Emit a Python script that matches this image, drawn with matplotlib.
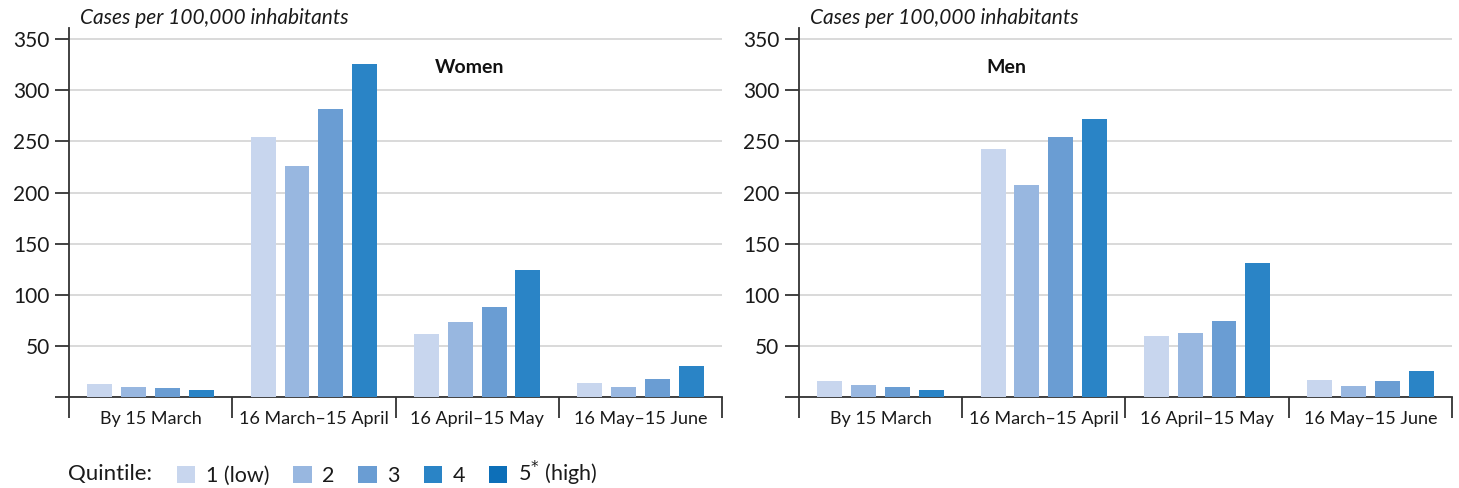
import numpy as np
import matplotlib.pyplot as plt
from matplotlib.patches import Patch

plt.rcParams['font.family'] = ['Lato', 'DejaVu Sans']

periods = ['By 15 March', '16 March\u201315 April', '16 April\u201315 May', '16 May\u201315 June']
quintiles = ['1 (low)', '2', '3', '4', '5$^{*}$ (high)']
colors = ['#c8d6ee', '#98b7e0', '#6a9dd3', '#2a84c6', '#0d6fb8']

# values per quintile (rows) and period (columns); quintile 5 not shown in the bars
women = [[13, 254, 62, 14],
         [10, 226, 73, 10],
         [9, 282, 88, 18],
         [7, 326, 124, 30]]
men = [[16, 243, 60, 17],
       [12, 207, 63, 11],
       [10, 254, 74, 16],
       [7, 272, 131, 25]]

fig = plt.figure(figsize=(14.59, 4.88), dpi=100)
ax1 = fig.add_axes([0.0473, 0.1865, 0.4476, 0.7561])
ax2 = fig.add_axes([0.5476, 0.1865, 0.4476, 0.7561])

x = np.arange(len(periods))
step = 0.207
width = 0.153

for ax, data, title, tx in [(ax1, women, 'Women', 0.614), (ax2, men, 'Men', 0.318)]:
    for i, vals in enumerate(data):
        ax.bar(x + (i - 1.5) * step, vals, width=width, color=colors[i], zorder=3)
    ax.set_xlim(-0.5, 3.5)
    ax.set_ylim(0, 361)
    ax.set_yticks(np.arange(0, 351, 50))
    ax.set_yticklabels([''] + [str(v) for v in range(50, 351, 50)])
    ax.yaxis.grid(True, color='#d9d9d9', linewidth=1.4, zorder=0)
    ax.set_xticks(x)
    ax.set_xticklabels(periods)
    ax.set_xticks(np.arange(-0.5, 3.6, 1), minor=True)
    ax.tick_params(axis='x', which='major', length=0, pad=10, labelsize=13, colors='#1a1a1a')
    ax.tick_params(axis='x', which='minor', length=15, width=1.3, color='#333333')
    ax.tick_params(axis='y', length=10, width=1.3, color='#333333', labelsize=15, pad=4, labelcolor='#1a1a1a')
    for s in ['top', 'right']:
        ax.spines[s].set_visible(False)
    ax.spines['left'].set_color('#333333')
    ax.spines['bottom'].set_color('#333333')
    ax.spines['left'].set_linewidth(1.3)
    ax.spines['bottom'].set_linewidth(1.3)
    ax.text(tx, 0.894, title, transform=ax.transAxes, ha='center', va='center',
            fontsize=14, fontweight='bold', color='#111111')

fig.text(0.055, 0.963, 'Cases per 100,000 inhabitants', style='italic', fontsize=15,
         ha='left', va='center', color='#1a1a1a')
fig.text(0.555, 0.963, 'Cases per 100,000 inhabitants', style='italic', fontsize=15,
         ha='left', va='center', color='#1a1a1a')

fig.text(68 / 1459, 0.028, 'Quintile:', fontsize=16, ha='left', va='center', color='#1a1a1a')
handles = [Patch(facecolor=c, edgecolor='none') for c in colors]
fig.legend(handles, quintiles, loc='center left', bbox_to_anchor=(177 / 1459, 0.029),
           ncol=5, frameon=False, fontsize=15.5, handlelength=0.85, handleheight=0.85,
           handletextpad=0.5, columnspacing=1.1, borderpad=0, borderaxespad=0,
           labelcolor='#1a1a1a')

fig.savefig('out.png', dpi=100)
